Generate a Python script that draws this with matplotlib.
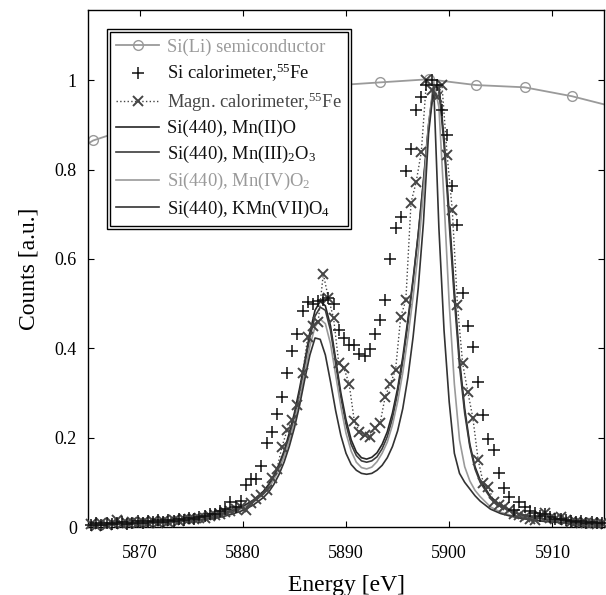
import matplotlib
matplotlib.use("Agg")
import matplotlib.pyplot as plt
from matplotlib.patches import Rectangle
import numpy as np

plt.rcParams['font.family'] = ['Liberation Serif', 'DejaVu Serif']
plt.rcParams['mathtext.fontset'] = 'custom'
plt.rcParams['mathtext.rm'] = 'Liberation Serif'
plt.rcParams['mathtext.it'] = 'Liberation Serif:italic'
plt.rcParams['mathtext.bf'] = 'Liberation Serif:bold'

# ---------------- data ----------------
# Si(Li) semiconductor detector (broad response)
sili_E = [5860.9, 5865.5, 5870.1, 5874.8, 5879.4, 5884.1, 5888.7, 5893.3, 5898.0, 5902.6, 5907.3, 5911.9, 5916.5]
sili_y = [0.80, 0.865, 0.90, 0.93, 0.955, 0.975, 0.988, 0.995, 1.002, 0.989, 0.984, 0.964, 0.937]

# Si calorimeter, 55Fe (+ markers)
sical_E = [5865.3 + 0.5 * i for i in range(100)]
sical_y = [0.005, 0.008, 0.004, 0.010, 0.006, 0.009, 0.012, 0.007, 0.010, 0.013,
           0.009, 0.014, 0.011, 0.015, 0.012, 0.016, 0.014, 0.018, 0.016, 0.020,
           0.019, 0.023, 0.025, 0.028, 0.030, 0.036, 0.040, 0.057, 0.045, 0.059,
           0.095, 0.107, 0.107, 0.136, 0.187, 0.212, 0.253, 0.292, 0.345, 0.394,
           0.431, 0.483, 0.504, 0.500, 0.506, 0.508, 0.512, 0.500, 0.441, 0.422,
           0.407, 0.407, 0.388, 0.383, 0.399, 0.431, 0.463, 0.509, 0.599, 0.670,
           0.694, 0.796, 0.845, 0.933, 0.963, 0.990, 1.000, 0.990, 0.934, 0.877,
           0.763, 0.676, 0.524, 0.450, 0.402, 0.325, 0.250, 0.197, 0.172, 0.120,
           0.087, 0.068, 0.038, 0.057, 0.045, 0.035, 0.031, 0.025, 0.028, 0.022,
           0.019, 0.017, 0.015, 0.014, 0.012, 0.013, 0.010, 0.011, 0.009, 0.008]

# Magnetic calorimeter, 55Fe (x markers, dotted)
magn_E = [5865.3 + 0.5 * i for i in range(100)]
magn_y = [0.006, 0.003, 0.008, 0.005, 0.010, 0.016, 0.007, 0.009, 0.012, 0.008,
          0.011, 0.010, 0.013, 0.009, 0.014, 0.012, 0.016, 0.013, 0.018, 0.019,
          0.017, 0.021, 0.020, 0.024, 0.026, 0.030, 0.033, 0.036, 0.040, 0.045,
          0.038, 0.053, 0.062, 0.072, 0.083, 0.109, 0.129, 0.180, 0.217, 0.239,
          0.273, 0.344, 0.426, 0.450, 0.459, 0.566, 0.512, 0.467, 0.366, 0.355,
          0.321, 0.238, 0.213, 0.206, 0.202, 0.221, 0.232, 0.292, 0.321, 0.351,
          0.470, 0.508, 0.726, 0.772, 0.840, 1.000, 0.978, 0.963, 0.989, 0.832,
          0.709, 0.497, 0.366, 0.303, 0.243, 0.151, 0.098, 0.090, 0.057, 0.050,
          0.045, 0.038, 0.030, 0.027, 0.022, 0.019, 0.015, 0.025, 0.031, 0.020,
          0.018, 0.023, 0.015, 0.012, 0.012, 0.009, 0.008, 0.010, 0.006, 0.008]

# Si(440) crystal spectrometer spectra
cryst_E = [5865, 5867, 5869, 5871, 5873, 5875, 5877, 5878, 5879, 5880, 5881, 5882,
           5882.5, 5883, 5883.5, 5884, 5884.5, 5885, 5885.5, 5886, 5886.5, 5887,
           5887.5, 5888, 5888.5, 5889, 5889.5, 5890, 5890.5, 5891, 5891.5, 5892,
           5892.5, 5893, 5893.5, 5894, 5894.5, 5895, 5895.5, 5896, 5896.5, 5897,
           5897.5, 5898, 5898.5, 5899, 5899.5, 5900, 5900.5, 5901, 5901.5, 5902,
           5902.5, 5903, 5904, 5905, 5906, 5907, 5908, 5909, 5910, 5912, 5914, 5915]

mn2_y = [0.005, 0.007, 0.009, 0.011, 0.014, 0.018, 0.025, 0.030, 0.037, 0.046, 0.060, 0.080,
         0.095, 0.115, 0.14, 0.17, 0.21, 0.255, 0.31, 0.37, 0.435, 0.485,
         0.505, 0.495, 0.45, 0.375, 0.30, 0.24, 0.195, 0.168, 0.155, 0.152,
         0.156, 0.166, 0.185, 0.213, 0.255, 0.31, 0.38, 0.465, 0.555, 0.655,
         0.77, 0.895, 0.985, 0.99, 0.87, 0.70, 0.53, 0.375, 0.265, 0.185,
         0.135, 0.105, 0.068, 0.048, 0.036, 0.028, 0.023, 0.019, 0.016, 0.012, 0.009, 0.008]

mn3_y = [0.004, 0.006, 0.008, 0.010, 0.013, 0.017, 0.023, 0.028, 0.035, 0.044, 0.057, 0.076,
         0.09, 0.11, 0.135, 0.165, 0.2, 0.245, 0.3, 0.36, 0.425, 0.472,
         0.492, 0.485, 0.44, 0.365, 0.29, 0.23, 0.185, 0.16, 0.148, 0.145,
         0.148, 0.157, 0.175, 0.202, 0.243, 0.3, 0.37, 0.455, 0.55, 0.655,
         0.775, 0.9, 0.99, 0.98, 0.855, 0.68, 0.51, 0.36, 0.255, 0.18,
         0.13, 0.1, 0.065, 0.046, 0.035, 0.027, 0.022, 0.018, 0.015, 0.011, 0.008, 0.007]

mn4_y = [0.004, 0.006, 0.008, 0.010, 0.012, 0.016, 0.022, 0.027, 0.033, 0.042, 0.055, 0.073,
         0.087, 0.105, 0.128, 0.157, 0.192, 0.235, 0.287, 0.345, 0.405, 0.448,
         0.465, 0.455, 0.41, 0.34, 0.27, 0.21, 0.17, 0.145, 0.133, 0.13,
         0.134, 0.146, 0.165, 0.19, 0.228, 0.28, 0.345, 0.425, 0.515, 0.615,
         0.75, 0.9, 0.995, 0.94, 0.73, 0.5, 0.32, 0.195, 0.135, 0.103,
         0.082, 0.068, 0.045, 0.033, 0.026, 0.021, 0.017, 0.014, 0.012, 0.009, 0.007, 0.006]

mn7_y = [0.004, 0.005, 0.007, 0.009, 0.011, 0.014, 0.019, 0.023, 0.029, 0.037, 0.049, 0.066,
         0.078, 0.095, 0.117, 0.145, 0.18, 0.222, 0.272, 0.33, 0.385, 0.423,
         0.42, 0.385, 0.325, 0.26, 0.205, 0.165, 0.14, 0.127, 0.12, 0.118,
         0.12, 0.127, 0.138, 0.155, 0.18, 0.215, 0.265, 0.335, 0.425, 0.535,
         0.68, 0.88, 0.985, 0.67, 0.44, 0.28, 0.165, 0.12, 0.1, 0.085,
         0.07, 0.058, 0.04, 0.03, 0.024, 0.019, 0.016, 0.013, 0.011, 0.008, 0.006, 0.005]

labels = ["Si(Li) semiconductor",
          "Si calorimeter,$^{55}$Fe",
          "Magn. calorimeter,$^{55}$Fe",
          "Si(440), Mn(II)O",
          "Si(440), Mn(III)$_2$O$_3$",
          "Si(440), Mn(IV)O$_2$",
          "Si(440), KMn(VII)O$_4$"]
x_ticks = [5870, 5880, 5890, 5900, 5910]
y_ticks = [0, 0.2, 0.4, 0.6, 0.8, 1.0]
y_ticklabels = ["0", "0.2", "0.4", "0.6", "0.8", "1"]

# ---------------- plot ----------------
W, H = 606, 595
fig = plt.figure(figsize=(W / 100, H / 100), dpi=100)
ax = fig.add_axes([88 / W, 1 - 527 / H, (604 - 88) / W, (527 - 10) / H])

h_sili, = ax.plot(sili_E, sili_y, color='#9a9a9a', lw=1.3, marker='o', ms=7,
                  mfc='none', mec='#9a9a9a', mew=1.0, zorder=2)
h_sical, = ax.plot(sical_E, sical_y, ls='none', marker='+', ms=8.5, mew=1.1,
                   color='#111111', zorder=5, clip_on=False)
h_magn, = ax.plot(magn_E, magn_y, ls=':', lw=1.0, marker='x', ms=7.5, mew=1.4,
                  color='#454545', zorder=4, clip_on=False)
h_mn2, = ax.plot(cryst_E, mn2_y, color='#262626', lw=1.2, zorder=3)
h_mn3, = ax.plot(cryst_E, mn3_y, color='#3c3c3c', lw=1.2, zorder=3)
h_mn4, = ax.plot(cryst_E, mn4_y, color='#9a9a9a', lw=1.2, zorder=3)
h_mn7, = ax.plot(cryst_E, mn7_y, color='#333333', lw=1.2, zorder=3)

ax.set_xlim(5865, 5915)
ax.set_ylim(0, 1.157)
ax.set_xticks(x_ticks)
ax.set_yticks(y_ticks)
ax.set_yticklabels(y_ticklabels)
ax.tick_params(direction='in', top=True, right=True, labelsize=13,
               length=4, width=0.8, pad=8)
ax.tick_params(axis='x', pad=13)
for s in ax.spines.values():
    s.set_linewidth(1.0)
ax.set_xlabel("Energy [eV]", fontsize=17, labelpad=9)
ax.set_ylabel("Counts [a.u.]", fontsize=17, labelpad=11)

handles = [h_sili, h_sical, h_magn, h_mn2, h_mn3, h_mn4, h_mn7]
leg = ax.legend(handles, labels, loc='upper left', bbox_to_anchor=(0.037, 0.963),
                borderaxespad=0, fontsize=13.3, numpoints=1, handlelength=2.3,
                handletextpad=0.45, labelspacing=0.34, borderpad=0.5,
                fancybox=False, edgecolor='black', framealpha=1,
                labelcolor=['#9a9a9a', '#111111', '#454545', '#111111',
                            '#111111', '#9a9a9a', '#111111'])
leg.get_frame().set_linewidth(1.0)
leg.set_zorder(10)

fig.canvas.draw()
bb = leg.get_window_extent()
inset = 3
rect = Rectangle((bb.x0 + inset, bb.y0 + inset), bb.width - 2 * inset,
                 bb.height - 2 * inset, transform=None, fill=False,
                 edgecolor='black', lw=1.0, zorder=11)
fig.patches.append(rect)

fig.savefig("out.png", dpi=100)
